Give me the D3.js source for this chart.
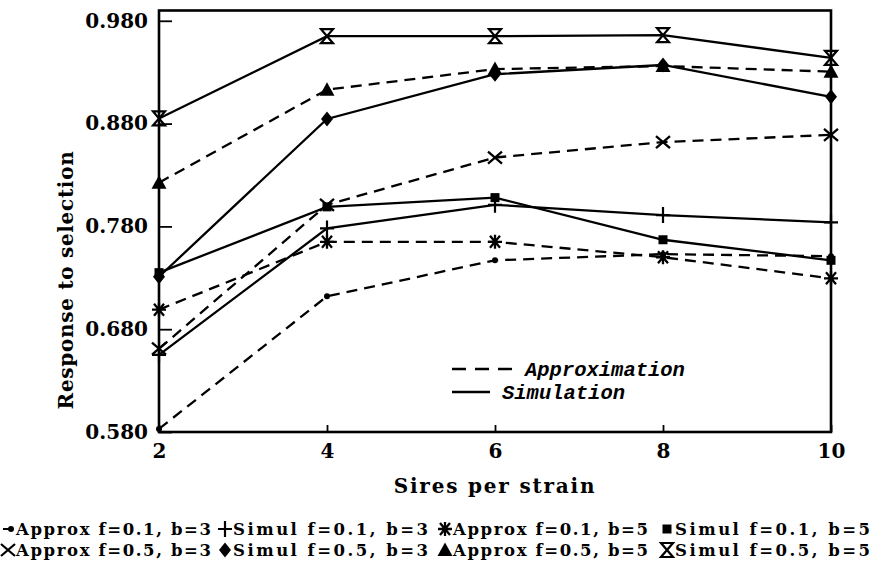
<!DOCTYPE html>
<html><head><meta charset="utf-8">
<script src="https://cdn.jsdelivr.net/npm/d3@7"></script>
<style>body{margin:0;background:#fff} svg{display:block}</style></head>
<body>
<svg id="c" width="883" height="569"></svg>
<script>
// ---- data ----
const sires = [2, 4, 6, 8, 10];
const approxF01B3 = [0.583, 0.712, 0.747, 0.753, 0.751];
const simulF01B3  = [0.655, 0.778, 0.801, 0.791, 0.784];
const approxF01B5 = [0.699, 0.765, 0.765, 0.750, 0.7295];
const simulF01B5  = [0.735, 0.799, 0.808, 0.767, 0.747];
const approxF05B3 = [0.661, 0.801, 0.847, 0.862, 0.869];
const simulF05B3  = [0.731, 0.8845, 0.928, 0.937, 0.906];
const approxF05B5 = [0.8225, 0.913, 0.933, 0.936, 0.9305];
const simulF05B5  = [0.885, 0.965, 0.965, 0.966, 0.944];
const yTicks = [0.58, 0.68, 0.78, 0.88, 0.98];
const xTicks = [2, 4, 6, 8, 10];
const seriesNames = ["Approx f=0.1, b=3", "Simul f=0.1, b=3", "Approx f=0.1, b=5", "Simul f=0.1, b=5",
                     "Approx f=0.5, b=3", "Simul f=0.5, b=3", "Approx f=0.5, b=5", "Simul f=0.5, b=5"];
const seriesValues = [approxF01B3, simulF01B3, approxF01B5, simulF01B5, approxF05B3, simulF05B3, approxF05B5, simulF05B5];
const seriesKinds = ["dot", "plus", "asterisk", "square", "cross", "diamond", "triangle", "hourglass"];
const xTitle = "Sires per strain";
const yTitle = "Response to selection";
const keyLabels = ["Approximation", "Simulation"];

// ---- layout ----
const svg = d3.select("#c");
const L = 159, R = 831, T = 10.5, B = 432;
const x = d3.scaleLinear().domain([2, 10]).range([L, R]);
const y = d3.scaleLinear().domain([0.58, 0.99]).range([B, T]);
const serif = "'DejaVu Serif', serif";

function drawMarker(g, kind) {
  if (kind === "dot") {
    g.append("circle").attr("r", 3).attr("fill", "#000");
  } else if (kind === "plus") {
    g.append("path").attr("d", "M-7,0H7M0,-8V8").attr("stroke", "#000").attr("stroke-width", 2.2).attr("fill", "none");
  } else if (kind === "asterisk") {
    g.append("path").attr("d", "M-7,0H7M-5,-6L5,6M-5,6L5,-6M0,-7V7").attr("stroke", "#000").attr("stroke-width", 2.3).attr("fill", "none");
  } else if (kind === "square") {
    g.append("rect").attr("x", -4.5).attr("y", -4.5).attr("width", 9).attr("height", 9).attr("fill", "#000");
  } else if (kind === "cross") {
    g.append("path").attr("d", "M-7,-6L7,6M-7,6L7,-6").attr("stroke", "#000").attr("stroke-width", 2.3).attr("fill", "none");
  } else if (kind === "diamond") {
    g.append("path").attr("d", "M0,-7.5L6,0L0,7.5L-6,0Z").attr("fill", "#000");
  } else if (kind === "triangle") {
    g.append("path").attr("d", "M0,-7.5L7.5,6L-7.5,6Z").attr("fill", "#000");
  } else if (kind === "hourglass") {
    g.append("path").attr("d", "M-6,-7H6L-6,7H6Z").attr("stroke", "#000").attr("stroke-width", 2.2).attr("fill", "none");
  }
}

// axes
const yAxis = d3.axisLeft(y).tickValues(yTicks).tickFormat(d3.format(".3f"))
  .tickSizeInner(-13).tickSizeOuter(0).tickPadding(11);
const gy = svg.append("g").attr("transform", `translate(${L},0)`).call(yAxis);
gy.select(".domain").remove();
gy.selectAll("line").attr("stroke", "#000").attr("stroke-width", 1.8);
gy.selectAll("text").attr("font-family", serif).attr("font-weight", "bold").attr("font-size", 20).attr("fill", "#000");

const xAxis = d3.axisBottom(x).tickValues(xTicks).tickFormat(d3.format("d"))
  .tickSizeInner(-7).tickSizeOuter(0).tickPadding(12);
const gx = svg.append("g").attr("transform", `translate(0,${B})`).call(xAxis);
gx.select(".domain").remove();
gx.selectAll("line").attr("stroke", "#000").attr("stroke-width", 1.8);
gx.selectAll("text").attr("font-family", serif).attr("font-weight", "bold").attr("font-size", 20).attr("fill", "#000");

// frame
svg.append("rect").attr("x", L).attr("y", T).attr("width", R - L).attr("height", B - T)
  .attr("fill", "none").attr("stroke", "#000").attr("stroke-width", 2.6);

// series lines
const line = d3.line().x((d, i) => x(sires[i])).y(d => y(d));
seriesValues.forEach((vals, s) => {
  const approx = seriesNames[s].startsWith("Approx");
  svg.append("path").attr("d", line(vals)).attr("fill", "none").attr("stroke", "#000")
    .attr("stroke-width", 2.3).attr("stroke-dasharray", approx ? "11,7" : null);
});
// markers
seriesValues.forEach((vals, s) => {
  vals.forEach((v, i) => {
    const g = svg.append("g").attr("transform", `translate(${x(sires[i])},${y(v)})`);
    drawMarker(g, seriesKinds[s]);
  });
});

// titles
svg.append("text").attr("x", 495).attr("y", 493).attr("text-anchor", "middle")
  .attr("font-family", serif).attr("font-weight", "bold").attr("font-size", 20)
  .attr("letter-spacing", 1.8).text(xTitle);
svg.append("text").attr("transform", "translate(73,280) rotate(-90)").attr("text-anchor", "middle")
  .attr("font-family", serif).attr("font-weight", "bold").attr("font-size", 20)
  .attr("letter-spacing", 0.7).text(yTitle);

// in-plot key
const keyFont = "'Liberation Mono', 'DejaVu Sans Mono', monospace";
svg.append("line").attr("x1", 452).attr("x2", 513).attr("y1", 369).attr("y2", 369)
  .attr("stroke", "#000").attr("stroke-width", 2.4).attr("stroke-dasharray", "14,9");
svg.append("line").attr("x1", 452).attr("x2", 490).attr("y1", 392).attr("y2", 392)
  .attr("stroke", "#000").attr("stroke-width", 2.4);
svg.append("text").attr("x", 525).attr("y", 376).attr("font-family", keyFont).attr("font-weight", "bold")
  .attr("font-style", "italic").attr("font-size", 20.5).text(keyLabels[0]);
svg.append("text").attr("x", 502).attr("y", 399).attr("font-family", keyFont).attr("font-weight", "bold")
  .attr("font-style", "italic").attr("font-size", 20.5).text(keyLabels[1]);

// bottom legend
const colX = [2, 219, 439, 661];
const rowY = [529, 550];
seriesNames.forEach((name, s) => {
  const col = s % 4, row = Math.floor(s / 4);
  const mx = colX[col] + 6, my = rowY[row];
  const g = svg.append("g").attr("transform", `translate(${mx},${my})`);
  if (seriesKinds[s] === "dot") {
    g.append("line").attr("x1", -5).attr("x2", 5).attr("stroke", "#000").attr("stroke-width", 2);
    g.append("circle").attr("cx", 3).attr("r", 3).attr("fill", "#000");
  } else {
    drawMarker(g, seriesKinds[s]);
  }
  svg.append("text").attr("x", colX[col] + 14).attr("y", my + 6)
    .attr("font-family", serif).attr("font-weight", "bold").attr("font-size", 16.5)
    .attr("textLength", 195).attr("lengthAdjust", "spacing").text(name);
});
</script>
</body></html>
